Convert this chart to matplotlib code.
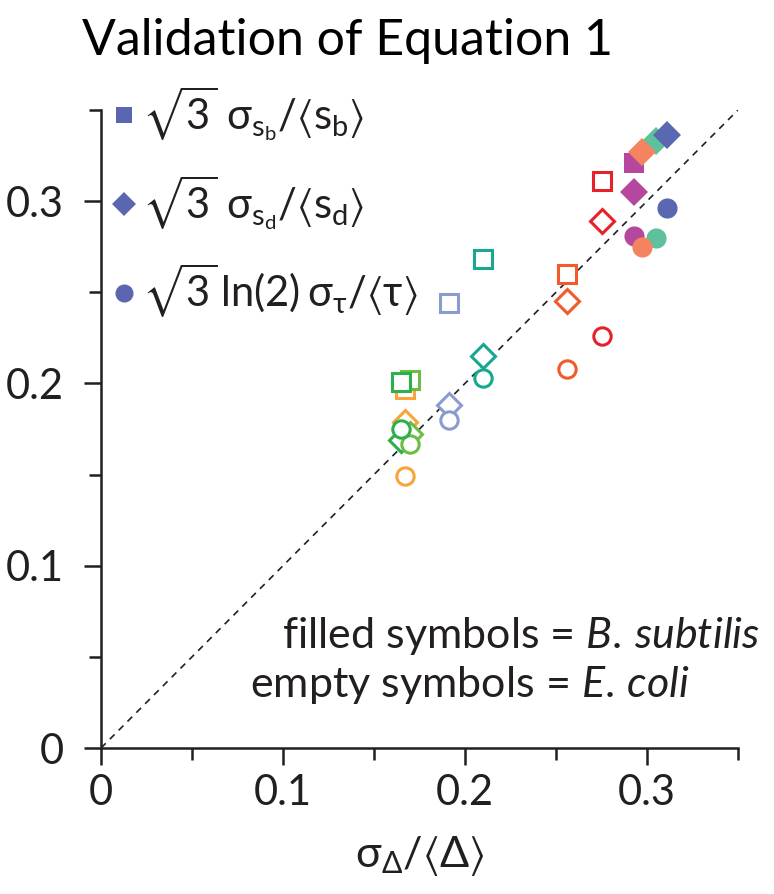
import matplotlib
matplotlib.use("Agg")
import matplotlib.pyplot as plt
from matplotlib.lines import Line2D
from matplotlib.ticker import FuncFormatter

plt.rcParams["font.family"] = ["Lato", "DejaVu Sans"]
plt.rcParams["mathtext.fontset"] = "custom"
plt.rcParams["mathtext.rm"] = "Lato"
plt.rcParams["mathtext.it"] = "Lato:italic"
plt.rcParams["mathtext.bf"] = "Lato:bold"
plt.rcParams["mathtext.default"] = "rm"
plt.rcParams["mathtext.fallback"] = "stixsans"

INK = "#231F20"

# B. subtilis (filled symbols)
bs_colors = ["#B5489C", "#5DC19B", "#F4845F", "#5A67B1"]
bs_x = [0.293, 0.305, 0.297, 0.311]
bs_sb = [0.321, None, None, None]
bs_sd = [0.305, 0.333, 0.327, 0.336]
bs_tau = [0.281, 0.280, 0.275, 0.296]

# E. coli (empty symbols)
ec_colors = ["#F8A43A", "#6CBD45", "#2DB04B", "#8A9BD0", "#17A88F", "#F15A2A", "#E8202D"]
ec_x = [0.167, 0.170, 0.165, 0.191, 0.210, 0.256, 0.275]
ec_sb = [0.197, 0.202, 0.201, 0.244, 0.268, 0.260, 0.311]
ec_sd = [0.179, 0.172, 0.169, 0.188, 0.215, 0.245, 0.289]
ec_tau = [0.149, 0.167, 0.175, 0.180, 0.203, 0.208, 0.226]

legend_color = "#5B66B0"
legend_labels = [
    r"$\sqrt{3}\ \sigma_{s_b}/\langle s_b\rangle$",
    r"$\sqrt{3}\ \sigma_{s_d}/\langle s_d\rangle$",
    r"$\sqrt{3}\,\ln(2)\:\sigma_{\tau}/\langle \tau\rangle$",
]

fig = plt.figure(figsize=(7.74, 8.94), dpi=100)
ax = fig.add_axes([0.1305, 0.1633, 0.823, 0.7137])

ax.axline((0, 0), slope=1, color=INK, lw=1.2, ls=(0, (4, 3.5)), zorder=1)

# empty symbols
for xs, ys, mk in [(ec_x, ec_sb, "s"), (ec_x, ec_sd, "D"), (ec_x, ec_tau, "o")]:
    for x, y, c in zip(xs, ys, ec_colors):
        ax.plot(x, y, marker=mk, ls="", ms=12.5, mew=2.2, mfc="white",
                mec=c, zorder=2)

# filled symbols
for xs, ys, mk in [(bs_x, bs_sb, "s"), (bs_x, bs_sd, "D"), (bs_x, bs_tau, "o")]:
    for x, y, c in zip(xs, ys, bs_colors):
        if y is None:
            continue
        ax.plot(x, y, marker=mk, ls="", ms=14.5 if mk != "D" else 14.3,
                mew=0, color=c, zorder=3)

ax.set_xlim(0, 0.35)
ax.set_ylim(0, 0.35)
ax.set_xticks([0, 0.1, 0.2, 0.3])
ax.set_yticks([0, 0.1, 0.2, 0.3])
ax.set_xticks([0.05, 0.15, 0.25, 0.35], minor=True)
ax.set_yticks([0.05, 0.15, 0.25, 0.35], minor=True)
fmt = FuncFormatter(lambda v, p: f"{v:g}")
ax.xaxis.set_major_formatter(fmt)
ax.yaxis.set_major_formatter(fmt)
for s in ("top", "right"):
    ax.spines[s].set_visible(False)
for s in ("left", "bottom"):
    ax.spines[s].set_linewidth(1.8)
    ax.spines[s].set_color(INK)
ax.tick_params(which="major", length=12.5, width=1.8, color=INK,
               labelsize=30, labelcolor=INK)
ax.tick_params(which="minor", length=8.6, width=1.8, color=INK)
ax.tick_params(axis="x", pad=6)
ax.tick_params(axis="y", pad=14)

ax.set_xlabel(r"$\sigma_{\Delta}/\langle\Delta\rangle$", fontsize=31,
              color=INK, labelpad=16)

handles = [
    Line2D([], [], ls="", marker="s", ms=12, mew=0, color=legend_color),
    Line2D([], [], ls="", marker="D", ms=12.5, mew=0, color=legend_color),
    Line2D([], [], ls="", marker="o", ms=13, mew=0, color=legend_color),
]
ax.legend(handles, legend_labels, loc="upper left",
          bbox_to_anchor=(0.018, 1.04), frameon=False, fontsize=30,
          handlelength=0.55, handletextpad=0.15, borderpad=0,
          borderaxespad=0, labelspacing=0.72, labelcolor=INK)

fig.text(282 / 774, 1 - 648 / 894,
         r"filled symbols = $\mathit{B.\,subtilis}$",
         fontsize=31, color=INK, va="baseline", ha="left")
fig.text(250 / 774, 1 - 697 / 894,
         r"empty symbols = $\mathit{E.\,coli}$",
         fontsize=31, color=INK, va="baseline", ha="left")

fig.text(347 / 774, 1 - 55 / 894, "Validation of Equation 1",
         fontsize=36, color="black", ha="center", va="baseline")

fig.savefig("out.png", dpi=100)
